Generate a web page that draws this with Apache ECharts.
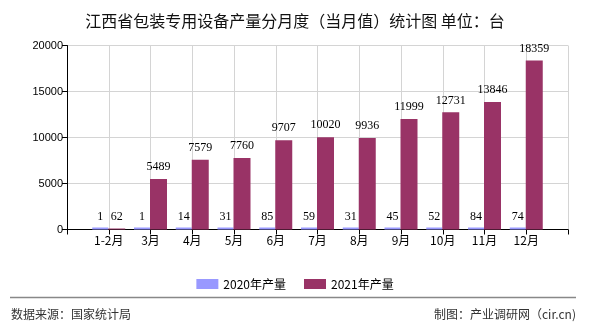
<!DOCTYPE html>
<html><head><meta charset="utf-8">
<script src="https://cdn.jsdelivr.net/npm/echarts@6/dist/echarts.min.js"></script>
<style>html,body{margin:0;padding:0;background:#fff}#c{width:590px;height:330px}</style>
</head><body><div id="c"></div>
<script>
var months = ["1-2月","3月","4月","5月","6月","7月","8月","9月","10月","11月","12月"];
var output2020 = [1,1,14,31,85,59,31,45,52,84,74];
var output2021 = [62,5489,7579,7760,9707,10020,9936,11999,12731,13846,18359];
var yTicks = [0,5000,10000,15000,20000];
var titleText = "江西省包装专用设备产量分月度（当月值）统计图 单位：台";
var sourceText = "数据来源：国家统计局";
var makerText = "制图：产业调研网（cir.cn)";

// pad with empty slots on both ends (axis points between bars)
var cats = [""].concat(months, [""]);
var s1 = [null].concat(output2020, [null]);
var s2 = [null].concat(output2021, [null]);

var cjk = '"Noto Sans CJK SC", "Liberation Sans", sans-serif';
var chart = echarts.init(document.getElementById('c'), null, {renderer:'canvas'});
chart.setOption({
  animation:false,
  backgroundColor:'#fff',
  title:{text:titleText,left:'center',top:8,textStyle:{fontFamily:cjk,fontSize:16,fontWeight:'normal',color:'#111'}},
  grid:{left:67,right:22,top:45.5,bottom:100.5},
  legend:{
    data:['2020年产量','2021年产量'],top:273,left:'center',itemWidth:22,itemHeight:10,itemGap:18,
    textStyle:{fontFamily:cjk,fontSize:12,color:'#000'},icon:'rect'
  },
  xAxis:{
    type:'category',data:cats,boundaryGap:false,
    axisLine:{lineStyle:{color:'#000',width:1}},
    axisTick:{show:true,interval:0,length:5,lineStyle:{color:'#000'}},
    axisLabel:{interval:0,margin:5,fontFamily:cjk,fontSize:12,color:'#000'},
    splitLine:{show:true,interval:0,lineStyle:{color:'#d4d4d4',width:1}}
  },
  yAxis:{
    type:'value',min:yTicks[0],max:yTicks[yTicks.length-1],interval:5000,
    axisLine:{show:true,lineStyle:{color:'#000',width:1}},
    axisTick:{show:true,length:5,lineStyle:{color:'#000'}},
    axisLabel:{margin:4,fontFamily:'"Liberation Sans", sans-serif',fontSize:11,color:'#000',
      formatter:function(v){return String(v);}},
    splitLine:{show:true,lineStyle:{color:'#d4d4d4',width:1}}
  },
  series:[
    {name:'2020年产量',type:'bar',data:s1,barWidth:16,barGap:'0%',barMinHeight:2,
     itemStyle:{color:'#9999ff'},
     label:{show:true,position:'top',distance:5,fontFamily:'"Liberation Serif", serif',fontSize:12,color:'#000'}},
    {name:'2021年产量',type:'bar',data:s2,barWidth:17,barGap:'0%',barMinHeight:1,
     itemStyle:{color:'#993366'},
     label:{show:true,position:'top',distance:6,fontFamily:'"Liberation Serif", serif',fontSize:12,color:'#000'}}
  ],
  graphic:[
    {type:'line',shape:{x1:10,y1:297.5,x2:576,y2:297.5},style:{stroke:'#888',lineWidth:1.5}},
    {type:'text',left:11,top:308,style:{text:sourceText,font:'12px '+cjk,fill:'#333'}},
    {type:'text',right:14,top:308,style:{text:makerText,font:'12px '+cjk,fill:'#333'}}
  ]
});
</script></body></html>
